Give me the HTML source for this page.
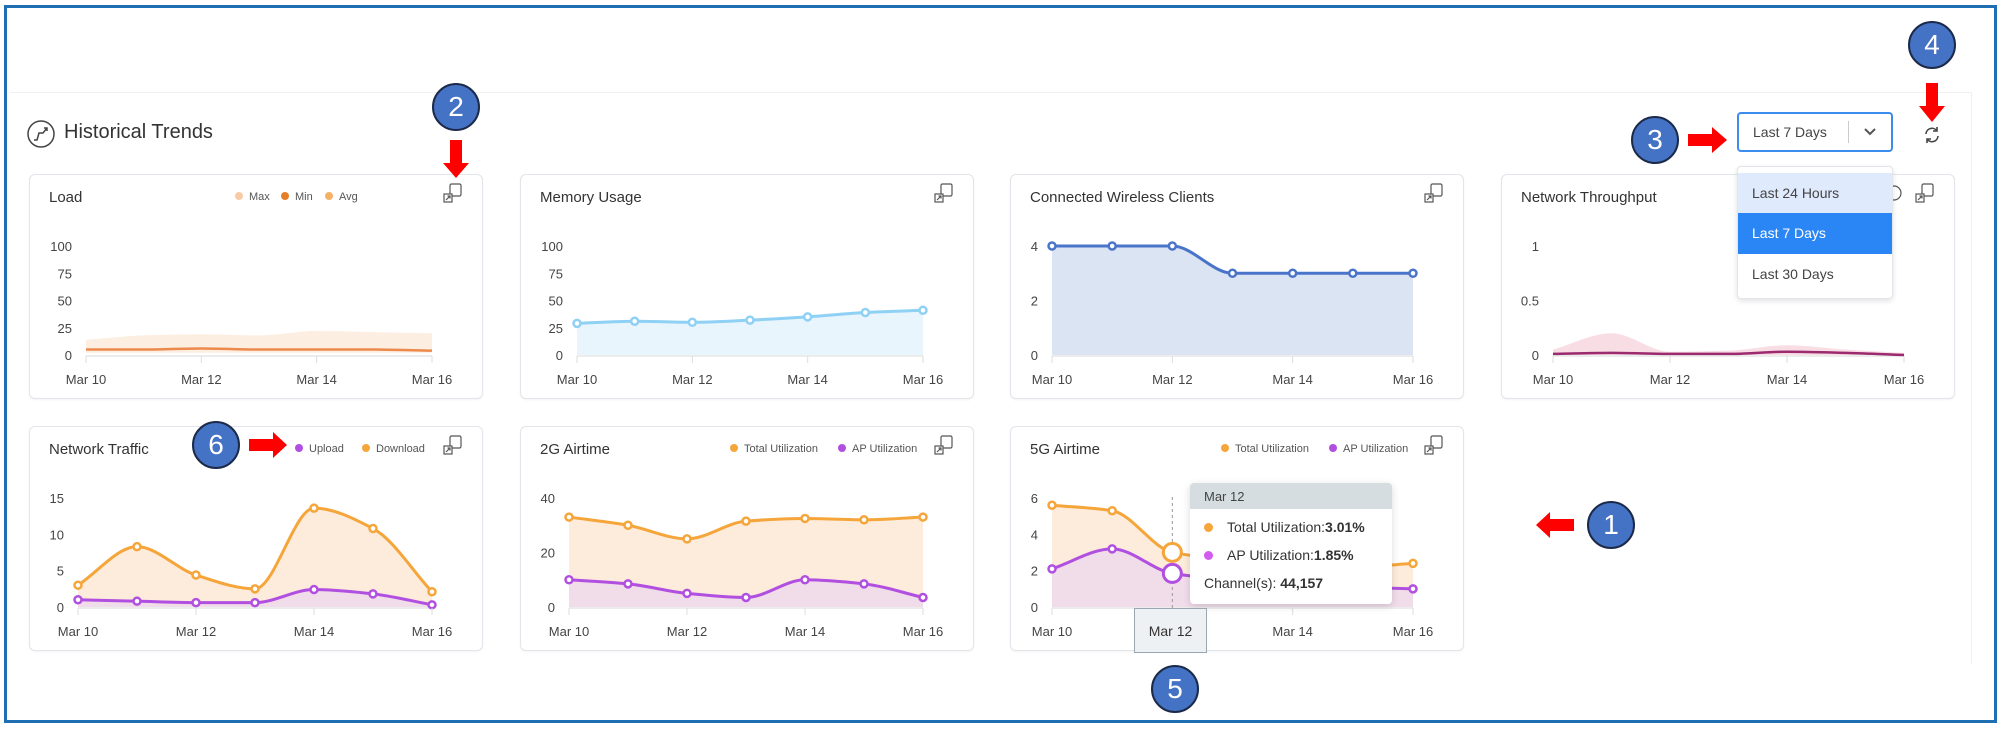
<!DOCTYPE html>
<html><head><meta charset="utf-8">
<style>
*{box-sizing:border-box;margin:0;padding:0}
body{width:2000px;height:740px;background:#fff;font-family:"Liberation Sans",sans-serif;color:#333;position:relative;overflow:hidden}
.frame{position:absolute;left:4px;top:5px;width:1993px;height:718px;border:3px solid #1f6fb5}
.panel{position:absolute;left:10px;top:92px;width:1962px;height:572px;border-top:1px solid #eef0f2;border-right:1px solid #eef0f2}
.card{position:absolute;width:454px;height:225px;border:1px solid #e2e5e9;border-radius:6px;background:#fff;box-shadow:0 1px 2px rgba(0,0,0,0.05)}
.card svg{position:absolute;left:0;top:0}
.ann{position:absolute;width:48px;height:48px;border-radius:50%;background:#4472c4;border:2px solid #1c2a4a;color:#fff;font-size:28px;text-align:center;line-height:44px}
svg text{font-family:"Liberation Sans",sans-serif}
</style></head><body>
<div class="frame"></div>
<div class="panel"></div>

<svg style="position:absolute;left:24px;top:118px" width="34" height="34">
<circle cx="17" cy="16" r="13" fill="none" stroke="#444" stroke-width="1.5"/>
<path d="M10 22 L13 22 L15 15 L19 15 L23 10 M20 10 L23 10 L23 13" fill="none" stroke="#444" stroke-width="1.5"/>
</svg>
<div style="position:absolute;left:64px;top:121px;font-size:20px;color:#333">Historical Trends</div>

<div style="position:absolute;left:1737px;top:112px;width:156px;height:40px;border:2px solid #3b8cf0;border-radius:4px;background:#fff">
<span style="position:absolute;left:14px;top:10px;font-size:14px;color:#444">Last 7 Days</span>
<span style="position:absolute;left:109px;top:7px;width:1px;height:22px;background:#ccc"></span>
<svg style="position:absolute;left:124px;top:12px" width="14" height="12"><path d="M2 3 L7 8 L12 3" fill="none" stroke="#555" stroke-width="2"/></svg>
</div>
<svg style="position:absolute;left:1922px;top:125px" width="20" height="20">
<path d="M4 9 A6 6 0 0 1 15 6 M16 11 A6 6 0 0 1 5 14" fill="none" stroke="#444" stroke-width="1.6"/>
<path d="M15 2 L15 6 L11 6 M5 18 L5 14 L9 14" fill="none" stroke="#444" stroke-width="1.6"/>
</svg>

<div class="card" style="left:29px;top:174px"><svg id="c-load" width="454" height="225"></svg></div>
<div class="card" style="left:520px;top:174px"><svg id="c-mem" width="454" height="225"></svg></div>
<div class="card" style="left:1010px;top:174px"><svg id="c-cli" width="454" height="225"></svg></div>
<div class="card" style="left:1501px;top:174px"><svg id="c-thr" width="454" height="225"></svg></div>
<div class="card" style="left:29px;top:426px"><svg id="c-traf" width="454" height="225"></svg></div>
<div class="card" style="left:520px;top:426px"><svg id="c-2g" width="454" height="225"></svg></div>
<div class="card" style="left:1010px;top:426px"><svg id="c-5g" width="454" height="225"></svg></div>

<div style="position:absolute;left:1737px;top:166px;width:156px;height:133px;background:#fff;border:1px solid #e2e5e9;border-radius:4px;box-shadow:0 2px 6px rgba(0,0,0,0.12)">
<div style="position:absolute;left:0;top:6px;width:154px;height:40px;background:#dfeafc;font-size:14px;color:#444;padding:12px 0 0 14px">Last 24 Hours</div>
<div style="position:absolute;left:0;top:46px;width:154px;height:41px;background:#2b86f5;font-size:14px;color:#fff;padding:12px 0 0 14px">Last 7 Days</div>
<div style="position:absolute;left:0;top:87px;width:154px;height:41px;font-size:14px;color:#444;padding:12px 0 0 14px">Last 30 Days</div>
</div>

<div style="position:absolute;left:1190px;top:483px;width:202px;height:121px;background:#fff;border-radius:4px;box-shadow:0 2px 8px rgba(0,0,0,0.15);overflow:hidden">
<div style="height:26px;background:#d5dde0;font-size:13px;color:#444;padding:6px 0 0 14px">Mar 12</div>
<div style="position:absolute;left:14px;top:36px;font-size:14px;color:#333"><span style="display:inline-block;width:9px;height:9px;border-radius:50%;background:#f5a53a;margin-right:14px"></span>Total Utilization:<b>3.01%</b></div>
<div style="position:absolute;left:14px;top:64px;font-size:14px;color:#333"><span style="display:inline-block;width:9px;height:9px;border-radius:50%;background:#d35bf0;margin-right:14px"></span>AP Utilization:<b>1.85%</b></div>
<div style="position:absolute;left:14px;top:92px;font-size:14px;color:#333">Channel(s): <b>44,157</b></div>
</div>
<div style="position:absolute;left:1134px;top:608px;width:73px;height:45px;background:#eef1f3;border:1px solid #9aa7b0;font-size:14px;color:#333;text-align:center;padding-top:14px">Mar 12</div>

<svg style="position:absolute;left:0;top:0;pointer-events:none" width="2000" height="740">
<path d="M450 140 L462 140 L462 163 L469 163 L456 178 L443 163 L450 163 Z" fill="#f00"/>
<path d="M1926 83 L1938 83 L1938 106 L1945 106 L1932 122 L1919 106 L1926 106 Z" fill="#f00"/>
<path d="M1688 134 L1712 134 L1712 127 L1727 140 L1712 153 L1712 146 L1688 146 Z" fill="#f00"/>
<path d="M249 439 L273 439 L273 432 L287 445 L273 458 L273 451 L249 451 Z" fill="#f00"/>
<path d="M1574 519 L1550 519 L1550 512 L1536 525 L1550 538 L1550 531 L1574 531 Z" fill="#f00"/>
</svg>
<div class="ann" style="left:432px;top:83px">2</div>
<div class="ann" style="left:1908px;top:21px">4</div>
<div class="ann" style="left:1631px;top:116px">3</div>
<div class="ann" style="left:192px;top:421px">6</div>
<div class="ann" style="left:1587px;top:501px">1</div>
<div class="ann" style="left:1151px;top:665px">5</div>

<script>
const days = ['Mar 10','Mar 11','Mar 12','Mar 13','Mar 14','Mar 15','Mar 16'];
const xTickLabels = ['Mar 10','Mar 12','Mar 14','Mar 16'];
const loadTicks = [0,25,50,75,100];
const loadMax = [14,18,19,18,22,21,20];
const loadMin = [2,2,2,2,2,2,2];
const loadAvg = [5,5,6,5,5,5,4];
const memoryValues = [29,31,30,32,35,39,41];
const clientTicks = [0,2,4];
const clientValues = [4,4,4,3,3,3,3];
const throughputTicks = [0,0.5,1];
const throughputMax = [0.05,0.2,0.03,0.04,0.09,0.05,0.02];
const throughputAvg = [0.01,0.02,0.01,0.01,0.03,0.02,0.0];
const trafficTicks = [0,5,10,15];
const trafficDownload = [3,8.3,4.4,2.5,13.6,10.8,2.1];
const trafficUpload = [1.0,0.8,0.6,0.6,2.4,1.8,0.3];
const air2gTicks = [0,20,40];
const air2gTotal = [33,30,25,31.5,32.5,32,33];
const air2gAp = [10,8.5,5,3.5,10,8.5,3.5];
const air5gTicks = [0,2,4,6];
const air5gTotal = [5.6,5.3,3.01,2.6,2.3,2.2,2.4];
const air5gAp = [2.1,3.2,1.85,1.5,1.3,1.1,1.0];

const NS='http://www.w3.org/2000/svg';
function mk(svg,tag,attrs){const e=document.createElementNS(NS,tag);for(const k in attrs)e.setAttribute(k,attrs[k]);svg.appendChild(e);return e;}
function mono(pts){
  const n=pts.length;if(n<2)return '';
  const dx=[],m=[],t=[];
  for(let i=0;i<n-1;i++){dx[i]=pts[i+1][0]-pts[i][0];m[i]=(pts[i+1][1]-pts[i][1])/dx[i];}
  t[0]=m[0];t[n-1]=m[n-2];
  for(let i=1;i<n-1;i++){t[i]=(m[i-1]*m[i]<=0)?0:(3*(dx[i-1]+dx[i]))/((2*dx[i]+dx[i-1])/m[i-1]+(dx[i]+2*dx[i-1])/m[i]);}
  let d='M'+pts[0][0]+' '+pts[0][1];
  for(let i=0;i<n-1;i++){const h=dx[i]/3;d+=' C'+(pts[i][0]+h)+' '+(pts[i][1]+t[i]*h)+' '+(pts[i+1][0]-h)+' '+(pts[i+1][1]-t[i+1]*h)+' '+pts[i+1][0]+' '+pts[i+1][1];}
  return d;
}
function chart(id,o){
  const svg=document.getElementById(id);
  const L=o.left,R=402,T=71,B=180;
  const ymax=o.ticks[o.ticks.length-1];
  const xs=i=>L+(R-L)*i/(days.length-1);
  const ys=v=>B-(B-T)*v/ymax;
  let t=mk(svg,'text',{x:19,y:27,'font-size':15,fill:'#333'});t.textContent=o.title;
  
  
  // expand icon
  const ic=mk(svg,'g',{transform:'translate(414,9)',fill:'none',stroke:'#555','stroke-width':1.2});
  
  
  mk(ic,'rect',{x:6,y:0,width:11,height:12,rx:1.5});
  mk(ic,'rect',{x:0,y:10,width:8,height:8,fill:'#fff'});
  mk(ic,'path',{d:'M2 16 L6 12 M3.5 12 L6 12 L6 14.5'});
  // legend
  let lx=o.legendX||0;
  (o.legend||[]).forEach(l=>{
    const c=mk(svg,'circle',{cx:lx,cy:21,r:4,fill:l[1]});
    
    
    const tx=mk(svg,'text',{x:lx+10,y:25,'font-size':11,fill:'#555'});tx.textContent=l[0];
    
    
    lx+=l[2];
  });
  // y ticks
  o.ticks.forEach(v=>{
    const tx=mk(svg,'text',{x:L-14,y:ys(v)+5,'font-size':13,fill:'#444','text-anchor':'end'});tx.textContent=v;
    
    
  });
  // areas & lines
  o.series.forEach(s=>{
    const pts=s.values.map((v,i)=>[xs(i),ys(v)]);
    if(s.band){
      const lo=s.band.map((v,i)=>[xs(i),ys(v)]).reverse();
      const d=mono(pts)+' L'+lo[0][0]+' '+lo[0][1]+mono(lo).slice(1).replace(/^[^C]*/,'')+' Z';
      const a=mk(svg,'path',{d:d,fill:s.fill});
      
      
      return;
    }
    if(s.fill){
      const a=mk(svg,'path',{d:mono(pts)+' L'+xs(days.length-1)+' '+B+' L'+xs(0)+' '+B+' Z',fill:s.fill});
      
      
    }
  });
  const axis=mk(svg,'line',{x1:L,x2:R,y1:B+1,y2:B+1,stroke:'#e6e6e6','stroke-width':1.5});
  
  
  o.series.forEach(s=>{
    if(s.band)return;
    const pts=s.values.map((v,i)=>[xs(i),ys(v)]);
    const ln=mk(svg,'path',{d:mono(pts),fill:'none',stroke:s.color,'stroke-width':s.w||3});
    
    
    if(s.markers)pts.forEach(p=>{
      const c=mk(svg,'circle',{cx:p[0],cy:p[1],r:3.5,fill:'#fff',stroke:s.color,'stroke-width':2.5});
      
      
    });
  });
  xTickLabels.forEach(lb=>{
    const i=days.indexOf(lb);
    mk(svg,'line',{x1:xs(i),x2:xs(i),y1:B+1,y2:B+8,stroke:'#ddd'});
    const tx=mk(svg,'text',{x:xs(i),y:209,'font-size':13,fill:'#444','text-anchor':'middle'});tx.textContent=lb;
    
    
  });
  if(o.hover!==undefined){
    const i=o.hover;
    mk(svg,'line',{x1:xs(i),x2:xs(i),y1:70,y2:B+2,stroke:'#999','stroke-dasharray':'3 3'});
    o.series.forEach(s=>{
      const c=mk(svg,'circle',{cx:xs(i),cy:ys(s.values[i]),r:9,fill:'#fff',stroke:s.color,'stroke-width':3});
      
      
    });
  }
  return svg;
}
const OR='#f5a53a',PU='#b14fe0';
chart('c-load',{title:'Load',left:56,ticks:loadTicks,legendX:209,legend:[['Max','#f8cba4',46],['Min','#e57e28',44],['Avg','#f5b266',40]],
  series:[{values:loadMax,band:loadMin,fill:'#fdeee2'},{values:loadAvg,color:'#ec8a4e',w:2.5}]});
chart('c-mem',{title:'Memory Usage',left:56,ticks:loadTicks,series:[{values:memoryValues,color:'#8fd0f5',fill:'#e8f5fd',markers:true}]});
chart('c-cli',{title:'Connected Wireless Clients',left:41,ticks:clientTicks,series:[{values:clientValues,color:'#4a74c9',fill:'#dbe4f2',markers:true}]});
const thr=chart('c-thr',{title:'Network Throughput',left:51,ticks:throughputTicks,series:[{values:throughputMax,band:throughputAvg.map(()=>0),fill:'#f9dde4'},{values:throughputAvg,color:'#9b2a6e',w:2.5}]});
const info=mk(thr,'circle',{cx:392,cy:18,r:7,fill:'none',stroke:'#555','stroke-width':1.2});


chart('c-traf',{title:'Network Traffic',left:48,ticks:trafficTicks,legendX:269,legend:[['Upload','#b14fe0',67],['Download',OR,70]],
  series:[{values:trafficDownload,color:OR,fill:'#fdecdb',markers:true},{values:trafficUpload,color:PU,fill:'#f1dcea',markers:true}]});
chart('c-2g',{title:'2G Airtime',left:48,ticks:air2gTicks,legendX:213,legend:[['Total Utilization',OR,108],['AP Utilization',PU,90]],
  series:[{values:air2gTotal,color:OR,fill:'#fdecdb',markers:true},{values:air2gAp,color:PU,fill:'#f1dcea',markers:true}]});
chart('c-5g',{title:'5G Airtime',left:41,ticks:air5gTicks,legendX:214,legend:[['Total Utilization',OR,108],['AP Utilization',PU,90]],hover:2,
  series:[{values:air5gTotal,color:OR,fill:'#fdecdb',markers:true},{values:air5gAp,color:PU,fill:'#f1dcea',markers:true}]});
</script>
</body></html>
